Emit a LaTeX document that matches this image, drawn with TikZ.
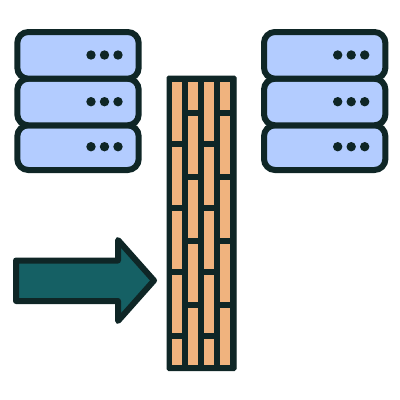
\documentclass[tikz,border=0pt]{standalone}
\usepackage{xcolor}
\usetikzlibrary{
    positioning,
    calc,
}
\definecolor{outline}{HTML}{0F2626}
\definecolor{serverblue}{HTML}{B3CCFF}
\definecolor{brick}{HTML}{F0B37E}
\definecolor{arrowteal}{HTML}{156064}
\tikzset{
    % Basic shape styles
    server/.style={draw=outline, fill=serverblue, line width=6pt, rounded corners=11pt},
    led/.style={circle, fill=outline, minimum size=9.4pt, inner sep=0pt},
    wall/.style={fill=outline, draw=outline, line width=1pt, rounded corners=1.5pt},
    brickbox/.style={fill=brick},
    bigarrow/.style={draw=outline, fill=arrowteal, line width=6pt, line join=round},
}

\begin{document}
\begin{tikzpicture}[x=1pt, y=-1pt]
    \useasboundingbox (0, 0) rectangle (400, 400);

    % Servers
    \foreach \dx in {0, 246.7} {
        \foreach \ya/\yb in {125.3/170, 78.7/125.3, 32/78.7} {
            \draw[server] (17.3 + \dx, \ya) rectangle (138.7 + \dx, \yb);
        }
        \foreach \ledy in {55, 101.7, 146.7} {
            \foreach \x in {91, 104.5, 118} {
                \node[led] at (\x + \dx, \ledy) {};
            }
        }
    }

    % Wall
    \draw[wall] (167, 76) rectangle (236, 370.5);
    \foreach \x in {172, 204.3} {
        \foreach \ya/\yb in {82/141, 147.3/205.3, 211.3/269, 275.3/333, 339.3/365} {
            \fill[brickbox] (\x, \ya) rectangle (\x + 10, \yb);
        }
    }
    \foreach \x in {188.3, 220.3} {
        \foreach \ya/\yb in {82/110, 116/174, 180.3/238, 244/301.7, 308/365} {
            \fill[brickbox] (\x, \ya) rectangle (\x + 10, \yb);
        }
    }

    % Arrow
    \draw[bigarrow] (16, 260.5) -- (118, 260.5) -- (118, 240) -- (154, 280.5)
        -- (118, 321) -- (118, 301) -- (16, 301) -- cycle;
\end{tikzpicture}
\end{document}
